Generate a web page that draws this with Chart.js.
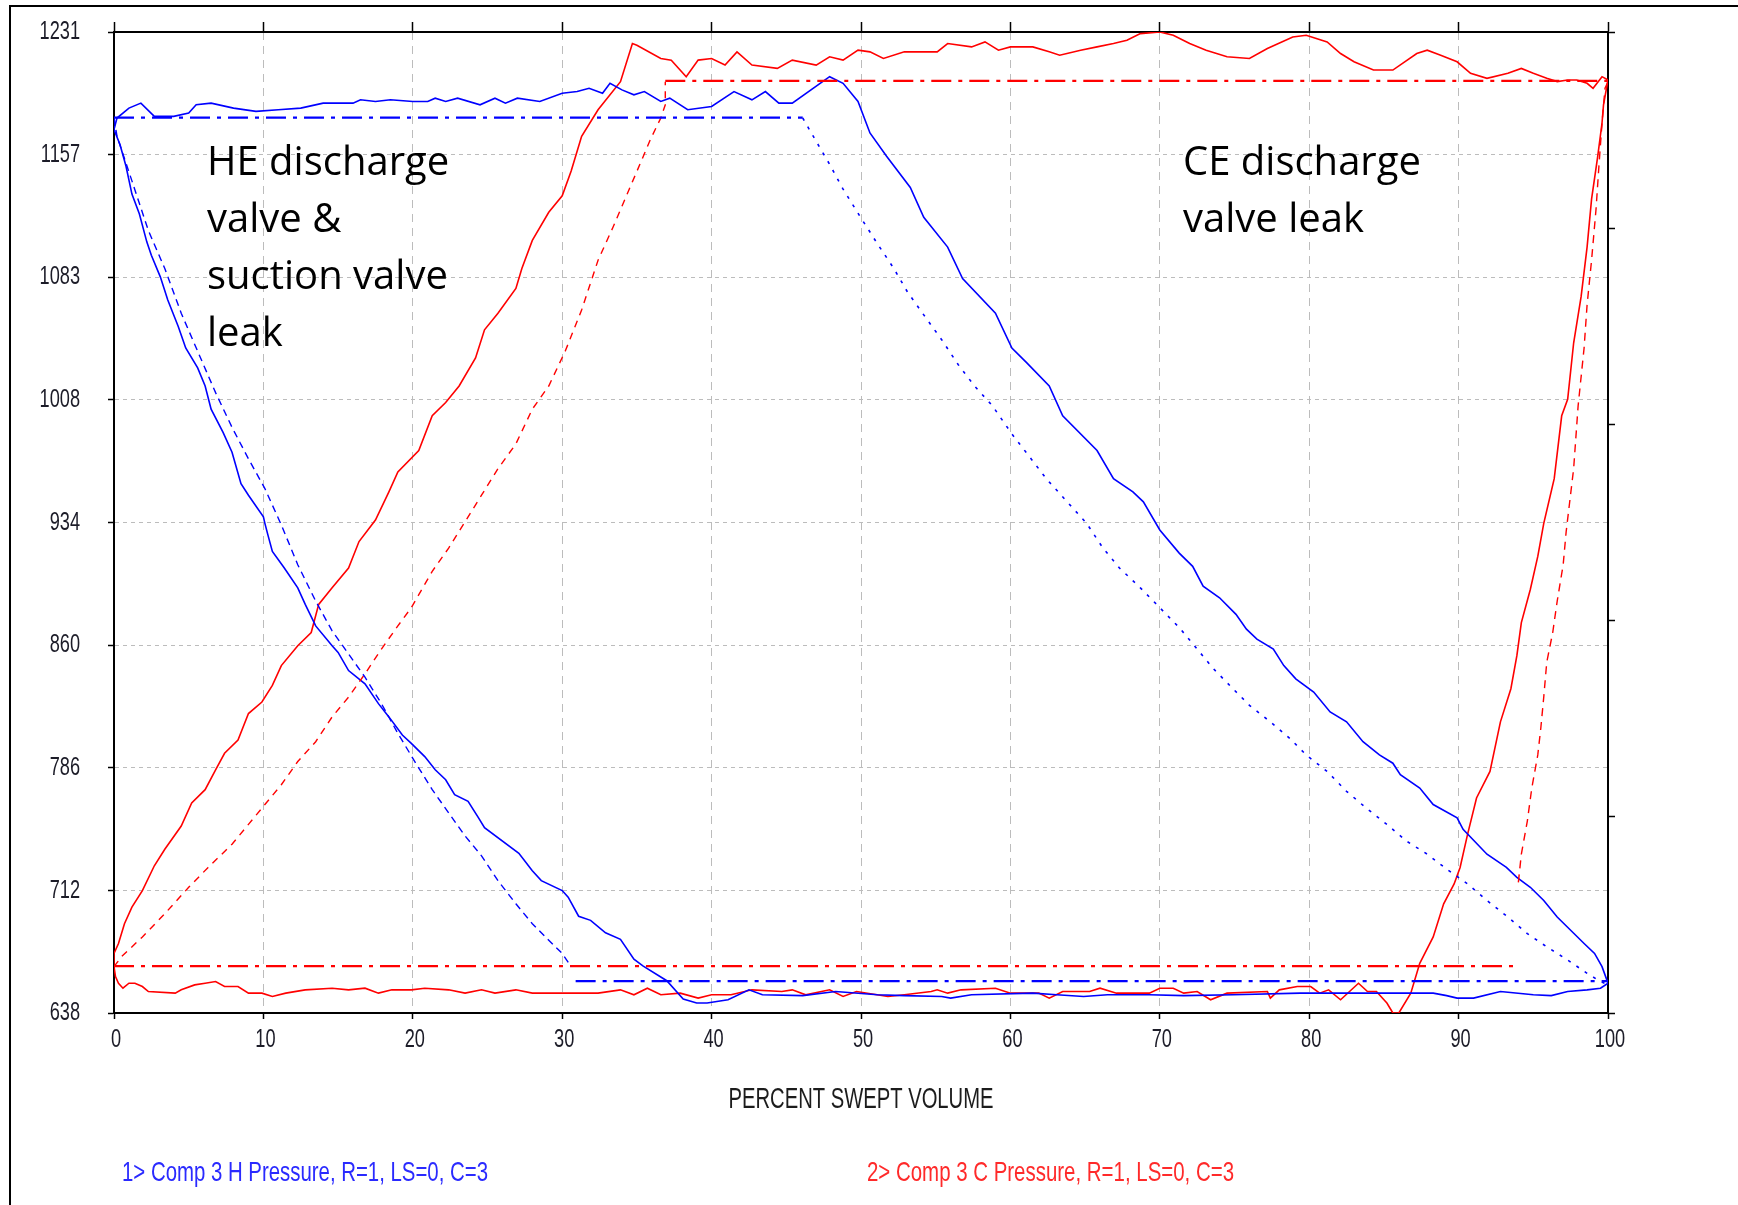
<!DOCTYPE html>
<html lang="en">
<head>
<meta charset="UTF-8">
<title>Comp 3 Pressure vs Percent Swept Volume</title>
<script src="https://cdn.jsdelivr.net/npm/chart.js"></script>
<style>
  html, body { margin: 0; padding: 0; background: #fff; }
  #wrap { position: relative; width: 1738px; height: 1205px; }
</style>
</head>
<body>
<div id="wrap"><canvas id="pvChart" width="1738" height="1205"></canvas></div>
<script>
// ---- axis ticks ----
const xTicks = [0, 10, 20, 30, 40, 50, 60, 70, 80, 90, 100];
const yTicks = [638, 712.125, 786.25, 860.375, 934.5, 1008.625, 1082.75, 1156.875, 1231];
const yTickLabels = ['638', '712', '786', '860', '934', '1008', '1083', '1157', '1231'];

// ---- head end (channel 1) measured pressure, [percent swept volume, psi] ----
const hPressure = [
  [0,1172],[0.2,1179],[1,1185],[1.8,1188],[2.7,1180],[4,1180],[5,1182],[5.5,1187],[6.5,1188],[8,1185],
  [9.5,1183],[11,1184],[12.5,1185],[14,1188],[16,1188],[16.5,1190],[17.5,1189],[18.5,1190],[20,1189],[21,1189],
  [21.5,1191],[22.2,1189],[23,1191],[24.5,1187],[25.5,1191],[26.2,1188],[27,1191],[28.5,1189],[30,1194],[31,1195],
  [31.8,1197],[32.7,1194],[33.2,1200],[34,1196],[34.8,1193],[35.5,1195],[36.6,1189],[37.2,1191],[38.4,1184],[40,1186],
  [41.5,1195],[42.7,1190],[43.6,1195],[44.5,1188],[45.4,1188],[47.9,1204],[48.8,1200],[49.8,1189],
  [50.6,1170],[51.7,1156],[53.3,1137],[54.2,1119],[55.8,1101],[56.8,1082],[59,1061],[60.1,1040],[61.1,1031],[62.6,1017],
  [63.5,999],[65.8,978],[66.9,961],[68.2,953],[68.9,947],[70,930],[71.3,916],[72.2,908],[72.9,896],[74,889],
  [75.1,879],[75.8,870],[76.5,864],[77.6,858],[78.3,848],[79.1,840],[80.3,832],[81.4,820],[82.5,814],[83.6,802],
  [84.7,794],[85.6,789],[86.1,782],[87.4,774],[88.3,764],[89.9,756],[90.3,749],[91.9,734],[93.2,726],[93.9,720],
  [94.8,714],[95.7,706],[96.6,696],[97.5,688],[98.4,680],[99.1,674],[99.6,666],[100,656],
  [99.5,653],[98.6,652],[97.3,651],[96.2,648.5],[95,649],[92.8,651],[91,647],[89.9,647],[89.2,648.5],[88.3,650],
  [81.6,650],[79.4,650],[74.9,649],[71.6,648.5],[69.3,649],[66.5,649],[64.9,648],[63.1,649],[61.5,650],[57.4,649],
  [56,647],[55.4,648],[52.9,648.5],[51.1,649],[48.3,651],[46.1,648.5],[43.4,649],[42.5,652],[41.1,646],[39.7,644],
  [39,644],[38.1,646.5],[37,657.5],[35.4,666.5],[34.8,670.5],[33.9,682.5],[32.9,686.5],[31.9,694],[31.1,696.5],[30.4,708],
  [30,712],[28.6,718],[28,724],[27.1,734.5],[24.8,750],[24.4,756],[23.7,766],[22.8,770],[22.2,779],[21.5,785],
  [20.8,793],[19.9,801],[19.3,806],[18.4,817],[17.7,825],[16.8,837],[15.7,845],[15,856],[14.6,860],[13.5,872],
  [12.8,885],[12.3,895],[11.4,907],[10.6,917],[10.3,927],[10.1,934],[10,938],[9,951],[8.5,958],[7.9,977],
  [7.3,989],[6.5,1003],[6.1,1017],[5.6,1028],[4.8,1040],[4.3,1053],[3.6,1069],[3.1,1083],[2.5,1096],[2.2,1104],
  [1.7,1121],[1.2,1133],[0.8,1150],[0.4,1163],[0,1172]
];

// head end theoretical card
const hTheoDischarge = [[0,1179.3],[46.1,1179.3]];
const hTheoSuction = [[30.9,657.3],[100,657.3]];
const hTheoCompression = [
  [0,1179],[0.2,1168],[1.2,1141],[2.3,1111],[3.4,1088],[4.5,1061],[5.6,1038],[6.8,1013],[7.9,992],[9,973],
  [10.1,955],[11.2,933],[12.3,909],[13.5,887],[14.6,869],[15.7,855],[16.8,841],[17.9,825],[19,807],[20.2,789],
  [21.3,773],[22.4,759],[23.5,745],[24.6,733],[25.7,718],[26.9,704],[28,692],[29.1,682],[30,674],[30.6,666]
];
const hTheoExpansion = [
  [46.1,1179],[46.8,1168],[47.9,1151],[48.8,1136],[49.9,1120],[51.1,1103],[52.2,1088],[53.1,1074],[54.2,1060],[55.4,1045],
  [56.5,1030],[57.6,1017],[58.8,1005],[60.1,988],[61.3,974],[62.4,961],[63.8,947],[65.1,934],[66.2,919],[67.3,907],
  [68.7,895],[70,883],[71.3,871],[72.5,858],[73.6,846],[74.9,834],[76,824],[77.4,814],[78.7,804],[79.8,794],
  [81.2,784],[82.5,772],[83.8,762],[85.2,752],[86.5,742],[87.9,734],[89.2,725],[90.6,716],[91.9,706],[93.3,696],
  [94.6,686],[95.9,678],[97.3,670],[98.6,662],[99.5,657],[100,655]
];

// ---- crank end (channel 2) measured pressure ----
const cPressure = [
  [0,666],[0,674],[0.3,680],[0.7,692],[1.2,702],[1.9,712],[2.7,727],[3.4,737],[4.5,751],[5.2,765],
  [6.1,773],[6.8,785],[7.4,795],[8.3,803],[9,819],[9.9,826],[10.6,836],[11.2,848],[12.3,860],[13.2,868],
  [13.7,885],[14.6,895],[15.7,907],[16.4,923],[17.5,936],[18.4,953],[19,965],[20.4,978],[21.3,999],[22.2,1007],
  [23.1,1017],[24.2,1034],[24.8,1051],[25.7,1061],[26.9,1076],[27.3,1088],[28,1105],[29.1,1122],[30,1132],[30.6,1147],
  [31.3,1168],[32.4,1184],[33.9,1201],[34.7,1224],
  [35,1223],[36.6,1215],[37.3,1214],[38.3,1204],[39.1,1214],[40,1215],[40.9,1211],[41.7,1219],[42.7,1211],[44.4,1209],
  [45.4,1214],[47,1211],[47.9,1216],[48.8,1214],[49.8,1220],[50.6,1219],[51.5,1215],[52.9,1219],[55.1,1219],[55.8,1224],
  [57.4,1222],[58.3,1225],[59.2,1220],[60,1222],[61.5,1222],[62.6,1219],[63.3,1217],[64.7,1220],[65.8,1222],[66.9,1224],
  [67.8,1226],[68.7,1230],[70,1231],[70.9,1229],[72,1224],[73.1,1220],[74.5,1216],[76,1215],[77.2,1221],[78.9,1228],
  [79.8,1229],[81.2,1225],[82.1,1218],[83,1213],[84.3,1208],[85.6,1208],[87.2,1218],[87.9,1220],[88.8,1217],[89.9,1213],
  [90.8,1206],[91.9,1203],[93.3,1206],[94.2,1209],[95,1206],[95.9,1203],[96.6,1201],[97.3,1202],[97.9,1202],[98.6,1200],
  [99,1197],[99.6,1204],[100,1202],
  [99.7,1187],[99.6,1176],[99.3,1155],[98.9,1130],[98.6,1101],[98.2,1071],[97.7,1043],[97.3,1009],[96.9,999],[96.4,961],
  [95.7,934],[95.3,914],[94.8,894],[94.2,874],[93.9,854],[93.5,834],[92.8,814],[92.1,784],[91.2,768],[90.6,746],
  [90.1,726],[89.7,716],[89,704],[88.3,684],[87.4,668],[86.8,650],[86,638],[85.6,638],
  [85.2,644],[84.5,651],[83.9,651],[83.3,656],[82.1,646],[81.3,652],[80.7,650],[80.1,654],[79.2,654],[78,652],
  [77.4,647],[77.2,651],[74.5,650],[73.4,646],[72.5,651],[71.6,650],[70.9,653],[70,653],[69.3,650],[67.1,650],
  [66,653],[65.3,651],[63.5,651],[62.6,647],[61.9,650],[60,650],[59,653],[56.7,652],[55.8,650],[55.1,652],
  [54.7,651],[52.9,649],[51.8,648],[49.7,651],[48.8,648],[47.9,652],[46.3,649],[45.4,652],[44.7,651],[42.7,652],
  [41.3,649],[40,649],[39.1,647],[37.9,650],[36.6,649],[35.7,653],[34.8,649],[33.9,652],[32.4,650],[30,650],
  [28,650],[26.9,652],[25.5,650],[24.6,652],[23.5,650],[22.4,652],[20.8,653],[19.9,652],[18.6,652],[17.7,650],
  [16.8,653],[15.7,652],[14.6,653],[12.8,652],[11.5,650],[10.6,648],[9.9,650],[9,650],[8.3,654],[7.4,654],
  [6.8,657],[6.1,656],[5.4,655],[4.5,652],[4.1,650],[2.3,651],[1.9,654],[1.4,656],[1,656],[0.6,653],
  [0.3,656],[0.1,660],[0,666]
];

// crank end theoretical card
const cTheoDischarge = [[36.9,1201.5],[100,1201.5]];
const cTheoSuction = [[0,666.3],[94,666.3]];
const cTheoCompression = [
  [0,666],[0.5,672],[1.9,684],[3.4,698],[5,714],[6.3,726],[7.9,740],[9,752],[10.1,764],[11.2,776],
  [12.3,790],[13.5,802],[14.6,817],[15.7,829],[16.8,843],[17.9,858],[19,872],[19.9,883],[21.3,905],[22.4,919],
  [23.5,935],[24.6,951],[25.7,967],[26.9,982],[28,1003],[29.1,1017],[30.2,1038],[31.3,1063],[32.4,1093],[33.4,1113],
  [34.3,1132],[35.2,1151],[35.9,1166],[36.6,1179],[36.9,1187],[36.9,1201]
];
const cTheoExpansion = [
  [94,717],[94.2,734],[94.6,754],[94.9,774],[95.3,794],[95.5,810],[95.7,829],[95.9,850],[96.3,868],[96.6,887],
  [97,909],[97.2,929],[97.7,967],[98,1005],[98.4,1040],[98.6,1066],[98.9,1093],[99.2,1124],[99.4,1151],[99.6,1176],
  [99.8,1197],[100,1201]
];

// ---- texts ----
const xTitle = 'PERCENT SWEPT VOLUME';
const legendH = '1> Comp 3 H Pressure, R=1, LS=0, C=3';
const legendC = '2> Comp 3 C Pressure, R=1, LS=0, C=3';
const noteHE = ['HE discharge', 'valve &', 'suction valve', 'leak'];
const noteCE = ['CE discharge', 'valve leak'];

const BLUE = '#0000ff';
const RED = '#ff0000';
const SANS = "'Liberation Sans', Arial, sans-serif";
const NOTE_FONT = "40px 'Open Sans', 'Noto Sans', sans-serif";
const TICK_FONT = '26px ' + SANS;
const TICK_SQUEEZE = 0.7;

const pts = arr => arr.map(p => ({ x: p[0], y: p[1] }));

function line(data, color, width, dash) {
  return {
    data: pts(data),
    borderColor: color,
    borderWidth: width,
    borderDash: dash,
    pointRadius: 0,
    fill: false,
    tension: 0
  };
}

// draws a condensed string; either squeezed to a given width or by a fixed factor
function squeezedText(ctx, str, x, y, font, color, opt) {
  ctx.save();
  ctx.font = font;
  ctx.fillStyle = color;
  ctx.textBaseline = 'middle';
  ctx.textAlign = 'left';
  const w = ctx.measureText(str).width;
  const sx = opt.width ? opt.width / w : opt.sx;
  let left = x;
  if (opt.align === 'center') left = x - (w * sx) / 2;
  if (opt.align === 'right') left = x - w * sx;
  ctx.translate(left, y);
  ctx.scale(sx, 1);
  ctx.fillText(str, 0, 0);
  ctx.restore();
}

const decor = {
  id: 'decor',
  beforeDraw(chart) {
    const ctx = chart.ctx;
    ctx.save();
    ctx.fillStyle = '#fff';
    ctx.fillRect(0, 0, chart.width, chart.height);
    // outer frame
    ctx.strokeStyle = '#000';
    ctx.lineWidth = 2;
    ctx.beginPath();
    ctx.moveTo(10, chart.height);
    ctx.lineTo(10, 6);
    ctx.lineTo(chart.width, 6);
    ctx.stroke();
    ctx.restore();
  },
  afterDraw(chart) {
    const ctx = chart.ctx;
    const a = chart.chartArea;
    const sx = chart.scales.x;
    const sy = chart.scales.y;

    // tick labels, placed from the scales
    sy.ticks.forEach((t, i) => {
      squeezedText(ctx, yTickLabels[i], a.left - 34, sy.getPixelForValue(t.value), TICK_FONT, '#1c1c28',
        { sx: TICK_SQUEEZE, align: 'right' });
    });
    sx.ticks.forEach(t => {
      squeezedText(ctx, String(t.value), sx.getPixelForValue(t.value) + 2, a.bottom + 27, TICK_FONT, '#1c1c28',
        { sx: TICK_SQUEEZE, align: 'center' });
    });

    squeezedText(ctx, xTitle, (a.left + a.right) / 2, a.bottom + 87, '29px ' + SANS, '#1c1c1c',
      { width: 265, align: 'center' });
    squeezedText(ctx, legendH, a.left + 8, a.bottom + 160, '28px ' + SANS, '#2a2aff', { width: 366 });
    squeezedText(ctx, legendC, a.left + 753, a.bottom + 160, '28px ' + SANS, '#ff2a2a', { width: 367 });

    ctx.save();
    ctx.font = NOTE_FONT;
    ctx.fillStyle = '#000';
    ctx.textBaseline = 'alphabetic';
    noteHE.forEach((s, i) => ctx.fillText(s, 207, 175 + i * 57));
    noteCE.forEach((s, i) => ctx.fillText(s, 1183, 175 + i * 57));
    ctx.restore();
  }
};

new Chart(document.getElementById('pvChart'), {
  type: 'line',
  data: {
    datasets: [
      line(hTheoDischarge, BLUE, 2.2, [20, 7, 4, 7]),
      line(hTheoSuction, BLUE, 2.2, [20, 7, 4, 7]),
      line(hTheoCompression, BLUE, 1.4, [7, 5]),
      line(hTheoExpansion, BLUE, 1.6, [3, 7]),
      line(cTheoDischarge, RED, 2.2, [20, 7, 4, 7]),
      line(cTheoSuction, RED, 2.2, [20, 7, 4, 7]),
      line(cTheoCompression, RED, 1.4, [7, 6]),
      line(cTheoExpansion, RED, 1.4, [8, 6]),
      line(hPressure, BLUE, 1.6, []),
      line(cPressure, RED, 1.6, [])
    ]
  },
  options: {
    responsive: false,
    animation: false,
    devicePixelRatio: 1,
    layout: { padding: { left: 4, right: 122, top: 22, bottom: 132 } },
    plugins: {
      legend: { display: false },
      tooltip: { enabled: false }
    },
    scales: {
      x: {
        type: 'linear', position: 'bottom', min: 0, max: 100,
        afterBuildTicks: s => { s.ticks = xTicks.map(v => ({ value: v })); },
        ticks: { display: false },
        grid: { color: '#bcbcbc', lineWidth: 1, tickColor: '#000', tickLength: 6, tickWidth: 1.5 },
        border: { color: '#000', width: 2, dash: [8, 6] },
        afterFit: s => { s.height = 60; }
      },
      xTop: {
        type: 'linear', position: 'top', min: 0, max: 100,
        afterBuildTicks: s => { s.ticks = xTicks.map(v => ({ value: v })); },
        ticks: { display: false },
        grid: { drawOnChartArea: false, tickColor: '#000', tickLength: 10, tickWidth: 1.5 },
        border: { color: '#000', width: 2 },
        afterFit: s => { s.height = 10; }
      },
      y: {
        type: 'linear', position: 'left', min: 638, max: 1231,
        afterBuildTicks: s => { s.ticks = yTicks.map(v => ({ value: v })); },
        ticks: { display: false },
        grid: { color: '#bcbcbc', lineWidth: 1, tickColor: '#000', tickLength: 6, tickWidth: 1.5 },
        border: { color: '#000', width: 2, dash: [4, 4] },
        afterFit: s => { s.width = 110; }
      },
      yRight: {
        type: 'linear', position: 'right', min: 0, max: 5,
        ticks: { display: false, stepSize: 1 },
        grid: { drawOnChartArea: false, tickColor: '#000', tickLength: 7, tickWidth: 1.5 },
        border: { color: '#000', width: 2 },
        afterFit: s => { s.width = 8; }
      }
    }
  },
  plugins: [decor]
});
</script>
</body>
</html>
